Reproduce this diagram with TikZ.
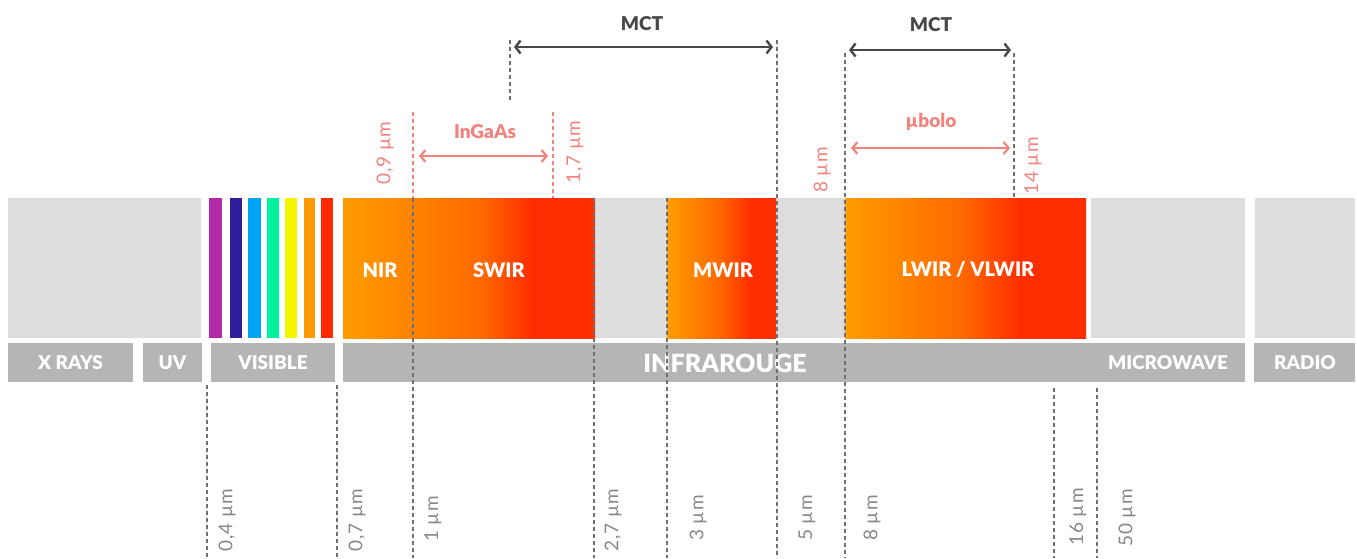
\documentclass[tikz,border=0pt]{standalone}
\usepackage{fontspec}
\setmainfont{Lato}[BoldFont={Lato Black}]
\usetikzlibrary{arrows.meta}
\definecolor{lgray}{HTML}{DDDDDD}
\definecolor{bgray}{HTML}{B5B5B5}
\definecolor{dgray}{HTML}{484848}
\definecolor{tgray}{HTML}{888888}
\definecolor{dashgray}{HTML}{707070}
\definecolor{pinkc}{HTML}{F2827C}
\definecolor{orng}{HTML}{FF9C00}
\definecolor{orngmid}{HTML}{FF6A00}
\definecolor{redo}{HTML}{FF2E00}
\definecolor{cpurple}{HTML}{B12AA6}
\definecolor{cdblue}{HTML}{2E1E9C}
\definecolor{clblue}{HTML}{00A2F5}
\definecolor{cgreen}{HTML}{00F0A0}
\definecolor{cyellow}{HTML}{F5F500}
\definecolor{corange}{HTML}{FF9A00}
\definecolor{cred}{HTML}{FF2A00}
\pgfdeclarehorizontalshading{swirshade}{100bp}{color(0bp)=(orng); color(25bp)=(orng); color(52.2bp)=(orngmid); color(62.5bp)=(redo); color(100bp)=(redo)}
\pgfdeclarehorizontalshading{mwirshade}{100bp}{color(0bp)=(orng); color(25bp)=(orng); color(48.4bp)=(orngmid); color(63.1bp)=(redo); color(100bp)=(redo)}
\pgfdeclarehorizontalshading{lwirshade}{100bp}{color(0bp)=(orng); color(25bp)=(orng); color(48.9bp)=(orngmid); color(61.3bp)=(redo); color(100bp)=(redo)}
\tikzset{
  blocklbl/.style={text=white, inner sep=0pt, font=\fontsize{20}{24}\selectfont\bfseries},
  barlbl/.style={text=white, inner sep=0pt, font=\fontsize{19}{24}\selectfont\bfseries},
  bigbarlbl/.style={text=white, inner sep=0pt, font=\fontsize{25}{28}\selectfont\bfseries},
  dline/.style={draw=dashgray, line width=2.2pt, dash pattern=on 4pt off 3pt},
  pdline/.style={draw=pinkc, line width=2.2pt, dash pattern=on 4pt off 3pt},
  mctarrow/.style={draw=dgray, line width=2.4pt, {Straight Barb[length=5pt,width=13pt]}-{Straight Barb[length=5pt,width=13pt]}},
  parrow/.style={draw=pinkc, line width=2.2pt, {Straight Barb[length=5pt,width=12pt]}-{Straight Barb[length=5pt,width=12pt]}},
  mctlbl/.style={text=dgray, inner sep=0pt, font=\fontsize{19}{22}\selectfont\bfseries},
  plbl/.style={text=pinkc, inner sep=0pt, font=\fontsize{19}{22}\selectfont\bfseries},
  prot/.style={text=pinkc, inner sep=0pt, rotate=90, font=\fontsize{19}{20}\selectfont\addfontfeatures{LetterSpace=5}},
  ulbl/.style={text=tgray, inner sep=0pt, rotate=90, font=\fontsize{19}{20}\selectfont\addfontfeatures{LetterSpace=5}},
}
\begin{document}
\begin{tikzpicture}[x=1pt,y=-1pt]
\useasboundingbox (0,0) rectangle (1357,558);
% light gray top blocks
\fill[lgray] (8,198) rectangle (201,338);
\fill[lgray] (343,198) rectangle (1086,338);
\fill[lgray] (1091,198) rectangle (1245,338);
\fill[lgray] (1255,198) rectangle (1355,338);
% rainbow
\fill[cpurple] (209,198) rectangle (222,338);
\fill[cdblue] (230,198) rectangle (242,338);
\fill[clblue] (248,198) rectangle (261,338);
\fill[cgreen] (267,198) rectangle (279,338);
\fill[cyellow] (285,198) rectangle (297,338);
\fill[corange] (304,198) rectangle (315,338);
\fill[cred] (321,198) rectangle (333,338);
% gradient blocks
\path[shading=swirshade] (343,198) rectangle (595,338);
\path[shading=mwirshade] (667,198) rectangle (776,338);
\path[shading=lwirshade] (845,198) rectangle (1086,338);
% block labels
\node[blocklbl] (nir) at (380,270) {NIR};
\node[blocklbl] (swir) at (499,270) {SWIR};
\node[blocklbl] (mwir) at (723,270) {MWIR};
\node[blocklbl] (lwir) at (968,270) {LWIR / VLWIR};
% bottom bars
\fill[bgray] (8,343) rectangle (133,382);
\fill[bgray] (143,343) rectangle (202,382);
\fill[bgray] (211,343) rectangle (335,382);
\fill[bgray] (343,343) rectangle (1245,382);
\fill[bgray] (1254,343) rectangle (1355,382);
\node[barlbl] (xrays) at (70.5,363) {X RAYS};
\node[barlbl] (uv) at (172.5,363) {UV};
\node[barlbl] (visible) at (273,363) {VISIBLE};
\node[bigbarlbl] (ir) at (725,363) {INFRAROUGE};
\node[barlbl] (micro) at (1168,363) {MICROWAVE};
\node[barlbl] (radio) at (1305,363) {RADIO};
% gray dashed lines
\foreach \n/\x/\a/\b in {d04/207/385/558, d07/337/385/558, d1/413/198/558, d27/594/198/558, d3/667/198/558, d5/777/40/558, d8/845/53/558, d14/1014/53/198, d16/1054/388/558, d50/1097/388/558, dm/510/40/100}{
  \coordinate (\n t) at (\x,\a);
  \coordinate (\n b) at (\x,\b);
  \draw[dline] (\n t) -- (\n b);
}
\foreach \n/\x/\a/\b in {p09/413/112/198, p17/553/112/198}{
  \coordinate (\n t) at (\x,\a);
  \coordinate (\n b) at (\x,\b);
  \draw[pdline] (\n t) -- (\n b);
}
% arrows
\coordinate (m1a) at (514,47); \coordinate (m1b) at (773,47);
\draw[mctarrow] (m1a) -- (m1b);
\coordinate (m2a) at (849,50); \coordinate (m2b) at (1011,50);
\draw[mctarrow] (m2a) -- (m2b);
\coordinate (ia) at (419,156); \coordinate (ib) at (548,156);
\draw[parrow] (ia) -- (ib);
\coordinate (ba) at (851,148); \coordinate (bb) at (1010,148);
\draw[parrow] (ba) -- (bb);
% top labels
\node[mctlbl] (mct1) at (642,24) {MCT};
\node[mctlbl] (mct2) at (931,25) {MCT};
\node[plbl] (ingaas) at (485,132) {InGaAs};
\node[plbl] (ubolo) at (931,122) {µbolo};
\node[prot] (p09l) at (385,153) {0,9 µm};
\node[prot] (p17l) at (575,152) {1,7 µm};
\node[prot] (p8l) at (822,170) {8 µm};
\node[prot] (p14l) at (1033,166) {14 µm};
% bottom labels
\node[ulbl] (u04) at (227,520) {0,4 µm};
\node[ulbl] (u07) at (357,520) {0,7 µm};
\node[ulbl] (u1) at (433,519) {1 µm};
\node[ulbl] (u27) at (613,520) {2,7 µm};
\node[ulbl] (u3) at (698,518) {3 µm};
\node[ulbl] (u5) at (807,518) {5 µm};
\node[ulbl] (u8) at (872,518) {8 µm};
\node[ulbl] (u16) at (1078,517) {16 µm};
\node[ulbl] (u50) at (1127,518) {50 µm};
\end{tikzpicture}
\end{document}
